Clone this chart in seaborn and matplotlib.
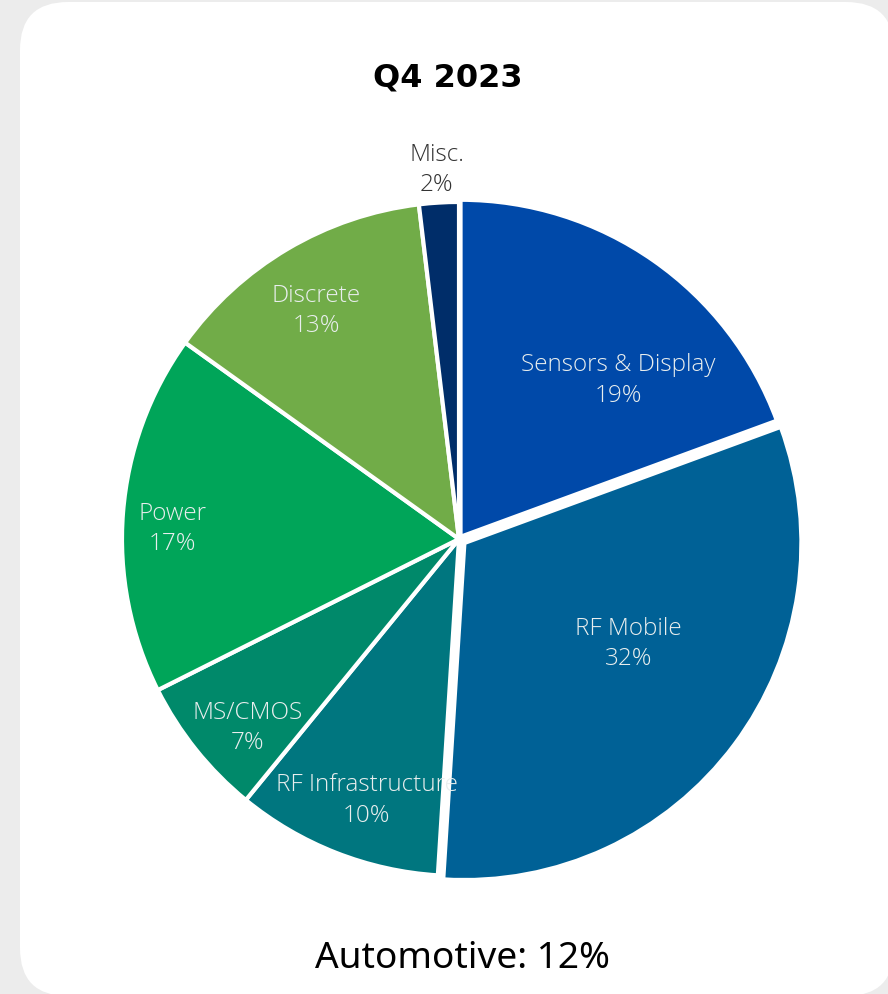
import numpy as np
import matplotlib
matplotlib.use("Agg")
import matplotlib.pyplot as plt
from matplotlib.patches import FancyBboxPatch
import seaborn as sns

# chart values (slice sizes; labels show rounded shares)
categories = ["Sensors & Display", "RF Mobile", "RF Infrastructure", "MS/CMOS",
              "Power", "Discrete", "Misc."]
shares = [19.4, 31.6, 9.9, 6.7, 17.3, 13.2, 1.9]
title = "Q4 2023"
footnote = "Automotive: 12%"

slice_colors = ["#0049A9", "#006196", "#00767F", "#00896A",
                "#00A559", "#71AC48", "#002D69"]
explode = [0.008, 0.02, 0, 0, 0, 0, 0]

# label placement (fraction of radius, angle tweak in degrees)
label_r = [0.67, 0.59, 0.82, 0.84, 0.85, 0.80, 1.10]
label_dt = [-10.1, 5.3, 1.9, 2.9, 2.3, 1.3, 0.0]

sns.set_theme(style="white")
plt.rcParams["font.family"] = ["Open Sans", "DejaVu Sans"]

W, H = 888, 995
fig = plt.figure(figsize=(W / 100, H / 100), dpi=100)
fig.patch.set_facecolor("#ececec")

# background card
bg = fig.add_axes([0, 0, 1, 1])
bg.set_xlim(0, W)
bg.set_ylim(H, 0)
bg.axis("off")
card = FancyBboxPatch((20, 3), 874, 994,
                      boxstyle="round,pad=0,rounding_size=48",
                      facecolor="white", edgecolor="none")
bg.add_patch(card)

# pie axes: centre (459, 540) px, radius 337 px
R = 337
cx, cy = 459, 540
span = 1.2
side = R * span * 2
ax = fig.add_axes([(cx - side / 2) / W, (H - cy - side / 2) / H, side / W, side / H])
ax.patch.set_alpha(0)

wedges, _ = ax.pie(shares, colors=slice_colors, startangle=90, counterclock=False,
                   radius=1, explode=explode,
                   wedgeprops=dict(edgecolor="white", linewidth=3))
ax.set_xlim(-span, span)
ax.set_ylim(-span, span)
ax.set_aspect("equal")
ax.axis("off")

for w, name, v, r, dt in zip(wedges, categories, shares, label_r, label_dt):
    mid = np.deg2rad((w.theta1 + w.theta2) / 2 + dt)
    col = "#333333" if r > 1 else "#e9eeee"
    ax.text(r * np.cos(mid), r * np.sin(mid), f"{name}\n{round(v)}%",
            ha="center", va="center", fontsize=17.5, color=col,
            fontweight="light", linespacing=1.35)

fig.text(448 / W, 1 - 78 / H, title, ha="center", va="center",
         fontsize=23, fontweight="bold", family=["DejaVu Sans"], color="black")
fig.text(462 / W, 1 - 959 / H, footnote, ha="center", va="center",
         fontsize=26.7, family=["Noto Sans", "DejaVu Sans"], color="black")

fig.savefig("out.png", dpi=100, facecolor=fig.get_facecolor())
